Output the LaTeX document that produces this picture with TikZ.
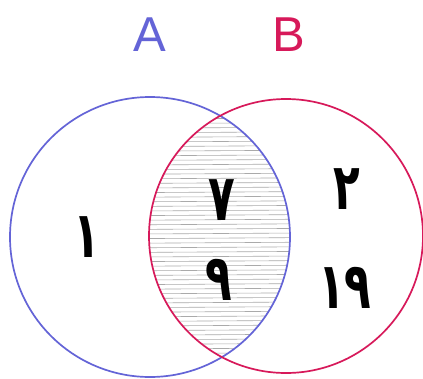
\documentclass[tikz,border=0pt]{standalone}
\usepackage{fontspec}
\setmainfont{Liberation Sans}
\newfontfamily\arabicfont[Script=Arabic]{DejaVu Sans}
\definecolor{setA}{RGB}{100,100,215}
\definecolor{setB}{RGB}{215,25,90}
\definecolor{hatch}{RGB}{170,170,170}
\newcommand{\tallnum}[1]{\scalebox{0.95}[1.4]{#1}}
\tikzset{
  setcircle/.style={line width=1.7pt},
  setlabel/.style={font=\fontsize{49}{49}\selectfont},
  num/.style={font=\arabicfont\bfseries\fontsize{46}{46}\selectfont, inner sep=0pt}
}
\begin{document}
\begin{tikzpicture}[x=1pt,y=-1pt]
\useasboundingbox (0,0) rectangle (423,378);
\fill[white] (0,0) rectangle (423,378);
\coordinate (cA) at (150,237);
\coordinate (cB) at (286,236);
% hatched intersection
\begin{scope}
  \clip (cA) circle[radius=140];
  \clip (cB) circle[radius=137];
  \foreach \y in {96,100.6,...,380} {
    \draw[hatch, line width=0.6pt] (140,\y) -- (300,\y-1);
  }
\end{scope}
\draw[setcircle, setA] (cA) circle[radius=140];
\draw[setcircle, setB] (cB) circle[radius=137];
\node[setlabel, text=setA] (labA) at (150,35) {A};
\node[setlabel, text=setB] (labB) at (289,35) {B};
\node[num] (n1) at (87,237) {\tallnum{١}};
\node[num] (n7) at (222,200) {\tallnum{٧}};
\node[num] (n9) at (219,280) {\tallnum{٩}};
\node[num] (n2) at (347,189) {\tallnum{٢}};
\node[num] (n19) at (345,288) {\tallnum{١٩}};
\end{tikzpicture}
\end{document}
